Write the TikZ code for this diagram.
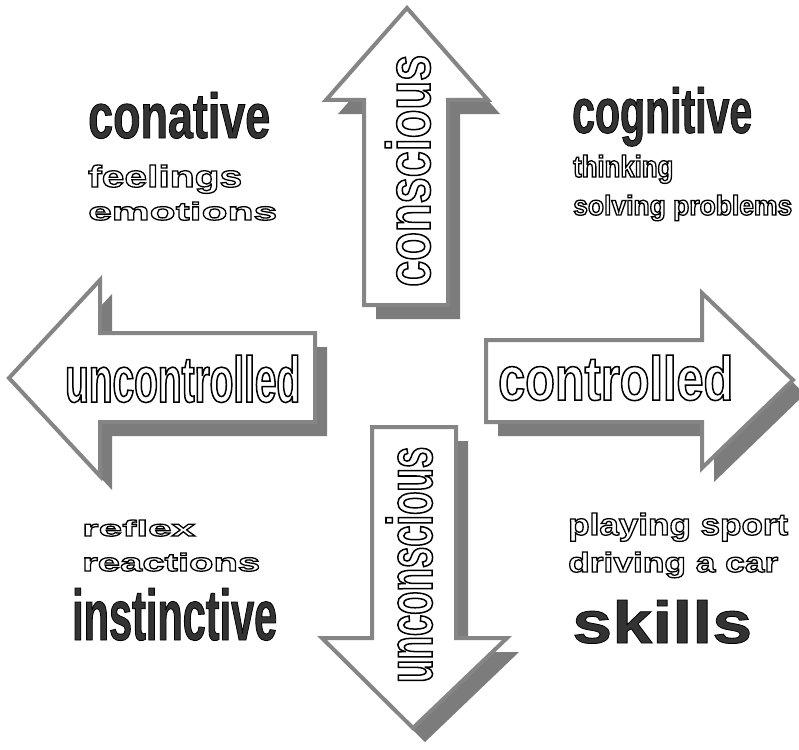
\documentclass[tikz,border=0pt]{standalone}
\usepackage{fontspec}
\setmainfont{Liberation Sans}
\definecolor{arrgray}{HTML}{858585}
\definecolor{shadgray}{HTML}{7C7C7C}
\definecolor{darkfill}{HTML}{333333}
% #1 width, #2 height above baseline, #3 outline stroke width, #4 text
\newcommand\fitword[4]{%
  \begingroup
  \setbox0=\hbox{\bfseries\fontsize{40pt}{40pt}\selectfont #4}%
  \pgfmathsetmacro\fwsize{40*#2/\ht0}%
  \pgfmathsetmacro\fwstretch{#1/(\wd0*\fwsize/40)}%
  \edef\fwtmp{\noexpand\fontspec{Liberation Sans}[FakeStretch=\fwstretch]}\fwtmp
  \bfseries\fontsize{\fwsize pt}{\fwsize pt}\selectfont
  \special{pdf:literal direct 2 Tr #3 w 0 0 0 RG}#4\special{pdf:literal direct 0 Tr}%
  \endgroup}
\tikzset{
  arrowbody/.style={fill=white, draw=arrgray, line width=4pt, line join=miter},
  arrowshadow/.style={fill=shadgray},
  darktext/.style={anchor=base west, inner sep=0pt, text=darkfill},
  outtext/.style={anchor=base west, inner sep=0pt, text=white},
}
\begin{document}
\begin{tikzpicture}[x=1pt,y=-1pt]
\fill[white] (0,0) rectangle (799,749);
\useasboundingbox (0,0) rectangle (799,749);

% shadows
\begin{scope}[shift={(12,14)}]
\fill[arrowshadow] (407,8) -- (488,100) -- (448,100) -- (448,305) -- (364,305) -- (364,100) -- (326,100) -- cycle;
\fill[arrowshadow] (9,378) -- (100,280) -- (100,333) -- (315,333) -- (315,422) -- (100,422) -- (100,476) -- cycle;
\fill[arrowshadow] (793,380) -- (702,293) -- (702,340) -- (486,340) -- (486,422) -- (702,422) -- (702,468) -- cycle;
\fill[arrowshadow] (413,728) -- (322,638) -- (372,638) -- (372,427) -- (456,427) -- (456,638) -- (507,638) -- cycle;
\end{scope}

% arrow bodies
\draw[arrowbody] (407,8) -- (488,100) -- (448,100) -- (448,305) -- (364,305) -- (364,100) -- (326,100) -- cycle;
\draw[arrowbody] (9,378) -- (100,280) -- (100,333) -- (315,333) -- (315,422) -- (100,422) -- (100,476) -- cycle;
\draw[arrowbody] (793,380) -- (702,293) -- (702,340) -- (486,340) -- (486,422) -- (702,422) -- (702,468) -- cycle;
\draw[arrowbody] (413,728) -- (322,638) -- (372,638) -- (372,427) -- (456,427) -- (456,638) -- (507,638) -- cycle;

% arrow labels
\node[outtext, rotate=90] (conscious) at (430,287) {\fitword{232}{45}{1.5}{conscious}};
\node[outtext, rotate=90] (unconscious) at (432,683) {\fitword{236}{46}{1.5}{unconscious}};
\node[outtext] (uncontrolled) at (65,402) {\fitword{235}{47}{1.5}{uncontrolled}};
\node[outtext] (controlled) at (498,400) {\fitword{235}{45}{1.5}{controlled}};

% quadrant texts
\node[darktext] (conative) at (88,138) {\fitword{182}{46}{0.8}{conative}};
\node[outtext] (feelings) at (88,187) {\fitword{154}{22}{1.3}{feelings}};
\node[outtext] (emotions) at (88,220) {\fitword{189}{18}{1.3}{emotions}};

\node[darktext] (cognitive) at (572,133) {\fitword{180}{46}{0.8}{cognitive}};
\node[outtext] (thinking) at (573,177) {\fitword{100}{22}{1.3}{thinking}};
\node[outtext] (solving) at (573,215) {\fitword{219}{20}{1.3}{solving problems}};

\node[outtext] (reflex) at (82,536) {\fitword{113}{16}{1.3}{reflex}};
\node[outtext] (reactions) at (82,571) {\fitword{178}{18}{1.3}{reactions}};
\node[darktext] (instinctive) at (72,640) {\fitword{205}{52}{0.8}{instinctive}};

\node[outtext] (playing) at (568,535) {\fitword{220}{22}{1.3}{playing sport}};
\node[outtext] (driving) at (568,572) {\fitword{210}{20}{1.3}{driving a car}};
\node[darktext] (skills) at (572,643) {\fitword{180}{43}{0.8}{skills}};
\end{tikzpicture}
\end{document}
